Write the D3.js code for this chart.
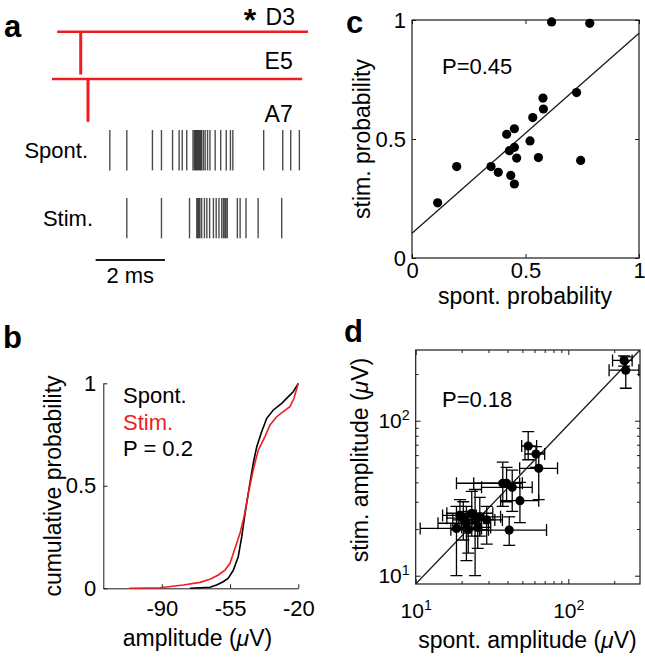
<!DOCTYPE html>
<html>
<head>
<meta charset="utf-8">
<script src="https://cdn.jsdelivr.net/npm/d3@7"></script>
<style>
  body { margin: 0; background: #fff; }
  text { font-family: "Liberation Sans", Arial, sans-serif; }
</style>
</head>
<body>
<script>
// ---------- data ----------
// panel a: spike times (ms after A7 stimulus)
let spontTimes = [0.63, 1.12, 1.86, 2.12, 2.44, 2.63, 2.72, 2.85, 3.03, 3.07, 3.10, 3.13, 3.16, 3.19, 3.22, 3.25,
    3.28, 3.33, 3.38, 3.45, 3.52, 3.67, 3.83, 3.99, 4.11, 4.18, 5.07, 5.62, 5.85, 6.10];
let stimTimes = [1.12, 2.12, 2.93, 3.14, 3.17, 3.20, 3.23, 3.28, 3.36, 3.43, 3.51, 3.62, 3.70, 3.78, 3.86, 3.91,
    3.95, 3.98, 4.02, 4.31, 4.39, 4.56, 4.91, 5.59];
let rasterRows = ["Spont.", "Stim."];
let siteNames = ["D3", "E5", "A7"];
let siteLineStart = [-0.89, -1.04];
let siteLineEnd = [6.35, 6.18];
let siteStimTimes = [-0.21, 0];
let scaleBarMs = [0.22, 2.22];

// panel b: cumulative distributions
let spontAmp = [-75.5, -65.3, -61.9, -58.5, -55.9, -53.3, -50.8, -49.0, -47.3, -45.1, -43.1, -41.3, -38.8, -36.2,
    -32.8, -28.5, -25.1, -22.6, -20];
let spontCum = [0, 0.005, 0.016, 0.032, 0.049, 0.089, 0.154, 0.252, 0.366, 0.496, 0.610, 0.691, 0.764, 0.829,
    0.870, 0.902, 0.935, 0.959, 1.0];
let stimAmp = [-106.7, -90.9, -79, -70.4, -65.3, -61, -57.6, -55, -53.3, -51.6, -49.9, -47.8, -45.6, -43.1, -40.5,
    -37.1, -34.5, -31.1, -27.7, -24.3, -22.2, -20];
let stimCum = [0, 0.003, 0.016, 0.029, 0.044, 0.065, 0.089, 0.122, 0.171, 0.220, 0.268, 0.350, 0.464, 0.578, 0.675,
    0.740, 0.797, 0.837, 0.862, 0.886, 0.927, 1.0];
let ampTicks = [-90, -55, -20];
let cumTicks = [0, 0.5, 1];

// panel c: probabilities
let cSpont = [0.113, 0.197, 0.348, 0.380, 0.417, 0.451, 0.429, 0.451, 0.461, 0.435, 0.451, 0.520, 0.532, 0.557,
    0.577, 0.579, 0.615, 0.783, 0.725, 0.743];
let cStim = [0.232, 0.384, 0.384, 0.360, 0.520, 0.543, 0.451, 0.465, 0.420, 0.347, 0.311, 0.492, 0.590, 0.422,
    0.672, 0.626, 0.992, 0.986, 0.695, 0.410];
let cFitX = [0, 1];
let cFitY = [0.104, 0.944];
let probTicks = [0, 0.5, 1];

// panel d: amplitudes (uV) with error ranges
let dSpont = [232, 238, 54.6, 61.4, 64, 37.2, 39.4, 42.9, 48.2, 41, 18.5, 20.5, 22.1, 24.5, 26.3, 29.2, 23.3, 21.5, 19.5, 25.5];
let dStim = [245, 212, 68.7, 61, 49.3, 39.5, 39.5, 37.2, 30.5, 19.7, 20.2, 23.5, 19.8, 22.9, 24, 22.9, 25.3, 21.8, 24.5, 20.5];
let dSpontLo = [195, 185, 49.5, 52, 48, 18.5, 24, 27, 36, 26.3, 10.7, 16, 17, 17.5, 19, 22, 16, 14, 15, 20];
let dSpontHi = [262, 290, 62, 70, 85, 48, 50, 58, 64, 72, 27, 28, 30, 33, 36, 37, 32, 27, 25, 31];
let dStimLo = [225, 162, 56, 50, 31, 28, 30, 26, 22, 15.7, 10, 17, 14, 10, 18, 16, 18, 12.5, 20, 15];
let dStimHi = [262, 258, 85, 68, 62, 54, 50, 48, 40, 24, 28, 30, 26, 36, 32, 28, 35, 28, 31, 25];
let dFitX = [10, 295];
let dFitY = [8.84, 286];
let logMajor = [10, 100];
let logMinorX = [20, 30, 40, 50, 60, 70, 80, 90, 200];
let logMinorY = [20, 30, 40, 50, 60, 70, 80, 90, 200];

// ---------- figure ----------
const width = 645, height = 657;
const red = "#ee1d24", ink = "#1a1a1a";

let svg = d3.select("body").append("svg")
    .attr("width", width)
    .attr("height", height);

function panelLetter(t, x, y) {
    svg.append("text").attr("x", x).attr("y", y)
        .attr("font-size", 31).attr("font-weight", "bold").text(t);
}

function styleAxis(g, size, keepDomain) {
    g.attr("font-size", size).attr("font-family", null);
    g.selectAll(".tick text").attr("fill", "#000");
    g.selectAll(".tick line").attr("stroke", ink);
    if (!keepDomain) g.select(".domain").remove();
    else g.select(".domain").attr("stroke", ink);
}

// ===== panel a =====
panelLetter("a", 4, 37);

let ax = d3.scaleLinear().domain([0, 6]).range([88, 295.9]);
let siteY = d3.scalePoint().domain(siteNames).range([31.7, 126.3]);
let rowY = d3.scaleBand().domain(rasterRows).range([130, 238.3]).paddingInner(0.405);

let ga = svg.append("g");
// electrode lines and stimulus drops
siteLineStart.forEach(function(s, i) {
    let y0 = siteY(siteNames[i]);
    ga.append("line")
        .attr("x1", ax(s)).attr("x2", ax(siteLineEnd[i]))
        .attr("y1", y0).attr("y2", y0)
        .attr("stroke", red).attr("stroke-width", 2.4);
    ga.append("line")
        .attr("x1", ax(siteStimTimes[i])).attr("x2", ax(siteStimTimes[i]))
        .attr("y1", y0).attr("y2", siteY(siteNames[i + 1]) - 4.5)
        .attr("stroke", red).attr("stroke-width", 3);
});
let siteLabelShift = [-6.7, -10, -4.6];
ga.selectAll(".site")
    .data(siteNames)
    .enter().append("text")
    .attr("class", "site")
    .attr("x", function(d, i) { return i === 0 ? 295 : 292.7; })
    .attr("y", function(d, i) { return siteY(d) + siteLabelShift[i]; })
    .attr("text-anchor", "end")
    .attr("font-size", 23)
    .text(function(d) { return d; });
ga.append("text")
    .attr("x", 250).attr("y", 31)
    .attr("text-anchor", "middle")
    .attr("font-size", 32).attr("font-weight", "bold")
    .text("*");

// rasters
let rasters = [spontTimes, stimTimes];
rasterRows.forEach(function(r, i) {
    ga.append("g").selectAll("line")
        .data(rasters[i])
        .enter().append("line")
        .attr("x1", function(d) { return ax(d); })
        .attr("x2", function(d) { return ax(d); })
        .attr("y1", rowY(r))
        .attr("y2", rowY(r) + rowY.bandwidth())
        .attr("stroke", "#000")
        .attr("stroke-opacity", 0.7)
        .attr("stroke-width", 1.4);
    ga.append("text")
        .attr("x", i === 0 ? 88 : 93)
        .attr("y", rowY(r) + rowY.bandwidth() / 2 + 8)
        .attr("text-anchor", "end")
        .attr("font-size", 22)
        .text(r);
});
// scale bar
ga.append("line")
    .attr("x1", ax(scaleBarMs[0])).attr("x2", ax(scaleBarMs[1]))
    .attr("y1", 260).attr("y2", 260)
    .attr("stroke", ink).attr("stroke-width", 2);
ga.append("text")
    .attr("x", (ax(scaleBarMs[0]) + ax(scaleBarMs[1])) / 2).attr("y", 283)
    .attr("text-anchor", "middle").attr("font-size", 22)
    .text((scaleBarMs[1] - scaleBarMs[0]).toFixed(0) + " ms");

// ===== panel b =====
panelLetter("b", 3, 348);

let bx = d3.scaleLinear().domain([-120, -20]).range([103.3, 298.3]);
let by = d3.scaleLinear().domain([0, 1]).range([588.3, 383.3]);
let gb = svg.append("g");

gb.append("g")
    .attr("transform", "translate(0,588.3)")
    .call(d3.axisBottom(bx).tickValues(ampTicks).tickSize(-4).tickSizeOuter(0).tickPadding(12)
        .tickFormat(function(d) { return String(d); }))
    .call(function(g) { styleAxis(g, 22, true); });
gb.append("g")
    .attr("transform", "translate(103.3,0)")
    .call(d3.axisLeft(by).tickValues(cumTicks).tickSize(-4).tickSizeOuter(0).tickPadding(7).tickFormat(d3.format("~g")))
    .call(function(g) { styleAxis(g, 22, true); });

let bLine = d3.line()
    .x(function(d) { return bx(d[0]); })
    .y(function(d) { return by(d[1]); });
gb.append("path")
    .datum(d3.zip(spontAmp, spontCum))
    .attr("d", bLine)
    .attr("fill", "none").attr("stroke", "#000").attr("stroke-width", 1.6);
gb.append("path")
    .datum(d3.zip(stimAmp, stimCum))
    .attr("d", bLine)
    .attr("fill", "none").attr("stroke", red).attr("stroke-width", 1.6);

gb.append("text").attr("x", 123).attr("y", 403).attr("font-size", 22).text("Spont.");
gb.append("text").attr("x", 123).attr("y", 430).attr("font-size", 22).attr("fill", red).text("Stim.");
gb.append("text").attr("x", 123).attr("y", 456).attr("font-size", 22).text("P = 0.2");

gb.append("text")
    .attr("transform", "translate(61,486) rotate(-90)")
    .attr("text-anchor", "middle").attr("font-size", 23)
    .text("cumulative probability");
let bxl = gb.append("text")
    .attr("x", 197.5).attr("y", 646)
    .attr("text-anchor", "middle").attr("font-size", 23);
bxl.append("tspan").text("amplitude (");
bxl.append("tspan").attr("font-style", "italic").text("\u03bc");
bxl.append("tspan").text("V)");

// ===== panel c =====
panelLetter("c", 346, 33);

let cx = d3.scaleLinear().domain([0, 1]).range([412, 639]);
let cy = d3.scaleLinear().domain([0, 1]).range([258, 20]);
let gc = svg.append("g");

gc.append("g").attr("transform", "translate(0,258)")
    .call(d3.axisBottom(cx).tickValues(probTicks).tickSize(-4).tickPadding(4).tickFormat(d3.format("~g")))
    .call(function(g) { styleAxis(g, 22); });
gc.append("g").attr("transform", "translate(412,0)")
    .call(d3.axisLeft(cy).tickValues(probTicks).tickSize(-4).tickPadding(6).tickFormat(d3.format("~g")))
    .call(function(g) { styleAxis(g, 22); });
gc.append("g").attr("transform", "translate(0,20)")
    .call(d3.axisTop(cx).tickValues(probTicks).tickSize(-4).tickFormat(""))
    .call(function(g) { styleAxis(g, 22); });
gc.append("g").attr("transform", "translate(639,0)")
    .call(d3.axisRight(cy).tickValues(probTicks).tickSize(-4).tickFormat(""))
    .call(function(g) { styleAxis(g, 22); });
gc.append("rect")
    .attr("x", cx(0)).attr("y", cy(1))
    .attr("width", cx(1) - cx(0)).attr("height", cy(0) - cy(1))
    .attr("fill", "none").attr("stroke", ink).attr("stroke-width", 1.2);

gc.append("line")
    .attr("x1", cx(cFitX[0])).attr("y1", cy(cFitY[0]))
    .attr("x2", cx(cFitX[1])).attr("y2", cy(cFitY[1]))
    .attr("stroke", ink).attr("stroke-width", 1.3);
gc.selectAll(".dot")
    .data(d3.zip(cSpont, cStim))
    .enter().append("circle")
    .attr("class", "dot")
    .attr("cx", function(d) { return cx(d[0]); })
    .attr("cy", function(d) { return cy(d[1]); })
    .attr("r", 4.6)
    .attr("fill", "#000");

gc.append("text").attr("x", 442).attr("y", 74).attr("font-size", 22).text("P=0.45");
gc.append("text")
    .attr("transform", "translate(370,139) rotate(-90)")
    .attr("text-anchor", "middle").attr("font-size", 23)
    .text("stim. probability");
gc.append("text")
    .attr("x", 525).attr("y", 304)
    .attr("text-anchor", "middle").attr("font-size", 23)
    .text("spont. probability");

// ===== panel d =====
panelLetter("d", 344, 342);

let dx = d3.scaleLog().domain([10, 295]).range([415.7, 640]);
let dy = d3.scaleLog().domain([8.84, 286]).range([584, 350]);
let gd = svg.append("g");

function powLabels(g) {
    g.selectAll(".tick text").each(function(d) {
        let t = d3.select(this);
        t.text(null);
        t.append("tspan").text("10");
        t.append("tspan").attr("dy", "-0.55em").attr("font-size", "0.68em")
            .text(Math.round(Math.log10(d)));
    });
}

// minor ticks
gd.append("g").attr("transform", "translate(0,584)")
    .call(d3.axisBottom(dx).tickValues(logMinorX).tickSize(-3).tickFormat(""))
    .call(function(g) { styleAxis(g, 21); });
gd.append("g").attr("transform", "translate(0,350)")
    .call(d3.axisTop(dx).tickValues(logMinorX).tickSize(-3).tickFormat(""))
    .call(function(g) { styleAxis(g, 21); });
gd.append("g").attr("transform", "translate(415.7,0)")
    .call(d3.axisLeft(dy).tickValues(logMinorY).tickSize(-3).tickFormat(""))
    .call(function(g) { styleAxis(g, 21); });
gd.append("g").attr("transform", "translate(640,0)")
    .call(d3.axisRight(dy).tickValues(logMinorY).tickSize(-3).tickFormat(""))
    .call(function(g) { styleAxis(g, 21); });
// major ticks
gd.append("g").attr("transform", "translate(0,584)")
    .call(d3.axisBottom(dx).tickValues(logMajor).tickSize(-5).tickPadding(19))
    .call(function(g) { styleAxis(g, 21); powLabels(g); });
gd.append("g").attr("transform", "translate(415.7,0)")
    .call(d3.axisLeft(dy).tickValues(logMajor).tickSize(-5).tickPadding(6))
    .call(function(g) { styleAxis(g, 21); powLabels(g); });
gd.append("g").attr("transform", "translate(0,350)")
    .call(d3.axisTop(dx).tickValues(logMajor).tickSize(-5).tickFormat(""))
    .call(function(g) { styleAxis(g, 21); });
gd.append("g").attr("transform", "translate(640,0)")
    .call(d3.axisRight(dy).tickValues(logMajor).tickSize(-5).tickFormat(""))
    .call(function(g) { styleAxis(g, 21); });

gd.append("clipPath").attr("id", "dclip")
    .append("rect")
    .attr("x", 415.7).attr("y", 350).attr("width", 640 - 415.7).attr("height", 584 - 350);
gd.append("rect")
    .attr("x", 415.7).attr("y", 350).attr("width", 640 - 415.7).attr("height", 584 - 350)
    .attr("fill", "none").attr("stroke", ink).attr("stroke-width", 1.2);

let inner = gd.append("g").attr("clip-path", "url(#dclip)");
inner.append("line")
    .attr("x1", dx(dFitX[0])).attr("y1", dy(dFitY[0]))
    .attr("x2", dx(dFitX[1])).attr("y2", dy(dFitY[1]))
    .attr("stroke", ink).attr("stroke-width", 1.3);

let cap = 6;
let pts = d3.range(dSpont.length);
let eb = inner.selectAll(".eb").data(pts).enter().append("g").attr("class", "eb")
    .attr("stroke", "#000").attr("stroke-width", 1.3);
// horizontal bars
eb.append("line")
    .attr("x1", function(i) { return dx(dSpontLo[i]); })
    .attr("x2", function(i) { return dx(dSpontHi[i]); })
    .attr("y1", function(i) { return dy(dStim[i]); })
    .attr("y2", function(i) { return dy(dStim[i]); });
eb.append("line")
    .attr("x1", function(i) { return dx(dSpontLo[i]); })
    .attr("x2", function(i) { return dx(dSpontLo[i]); })
    .attr("y1", function(i) { return dy(dStim[i]) - cap; })
    .attr("y2", function(i) { return dy(dStim[i]) + cap; });
eb.append("line")
    .attr("x1", function(i) { return dx(dSpontHi[i]); })
    .attr("x2", function(i) { return dx(dSpontHi[i]); })
    .attr("y1", function(i) { return dy(dStim[i]) - cap; })
    .attr("y2", function(i) { return dy(dStim[i]) + cap; });
// vertical bars
eb.append("line")
    .attr("x1", function(i) { return dx(dSpont[i]); })
    .attr("x2", function(i) { return dx(dSpont[i]); })
    .attr("y1", function(i) { return dy(dStimLo[i]); })
    .attr("y2", function(i) { return dy(dStimHi[i]); });
eb.append("line")
    .attr("x1", function(i) { return dx(dSpont[i]) - cap; })
    .attr("x2", function(i) { return dx(dSpont[i]) + cap; })
    .attr("y1", function(i) { return dy(dStimLo[i]); })
    .attr("y2", function(i) { return dy(dStimLo[i]); });
eb.append("line")
    .attr("x1", function(i) { return dx(dSpont[i]) - cap; })
    .attr("x2", function(i) { return dx(dSpont[i]) + cap; })
    .attr("y1", function(i) { return dy(dStimHi[i]); })
    .attr("y2", function(i) { return dy(dStimHi[i]); });
inner.selectAll(".ddot")
    .data(pts)
    .enter().append("circle")
    .attr("class", "ddot")
    .attr("cx", function(i) { return dx(dSpont[i]); })
    .attr("cy", function(i) { return dy(dStim[i]); })
    .attr("r", 4.6)
    .attr("fill", "#000");

gd.append("text").attr("x", 442).attr("y", 407).attr("font-size", 22).text("P=0.18");
let dyl = gd.append("text")
    .attr("transform", "translate(368,460) rotate(-90)")
    .attr("text-anchor", "middle").attr("font-size", 23);
dyl.append("tspan").text("stim. amplitude (");
dyl.append("tspan").attr("font-style", "italic").text("\u03bc");
dyl.append("tspan").text("V)");
let dxl = gd.append("text")
    .attr("x", 527.5).attr("y", 648)
    .attr("text-anchor", "middle").attr("font-size", 23);
dxl.append("tspan").text("spont. amplitude (");
dxl.append("tspan").attr("font-style", "italic").text("\u03bc");
dxl.append("tspan").text("V)");
</script>
</body>
</html>
